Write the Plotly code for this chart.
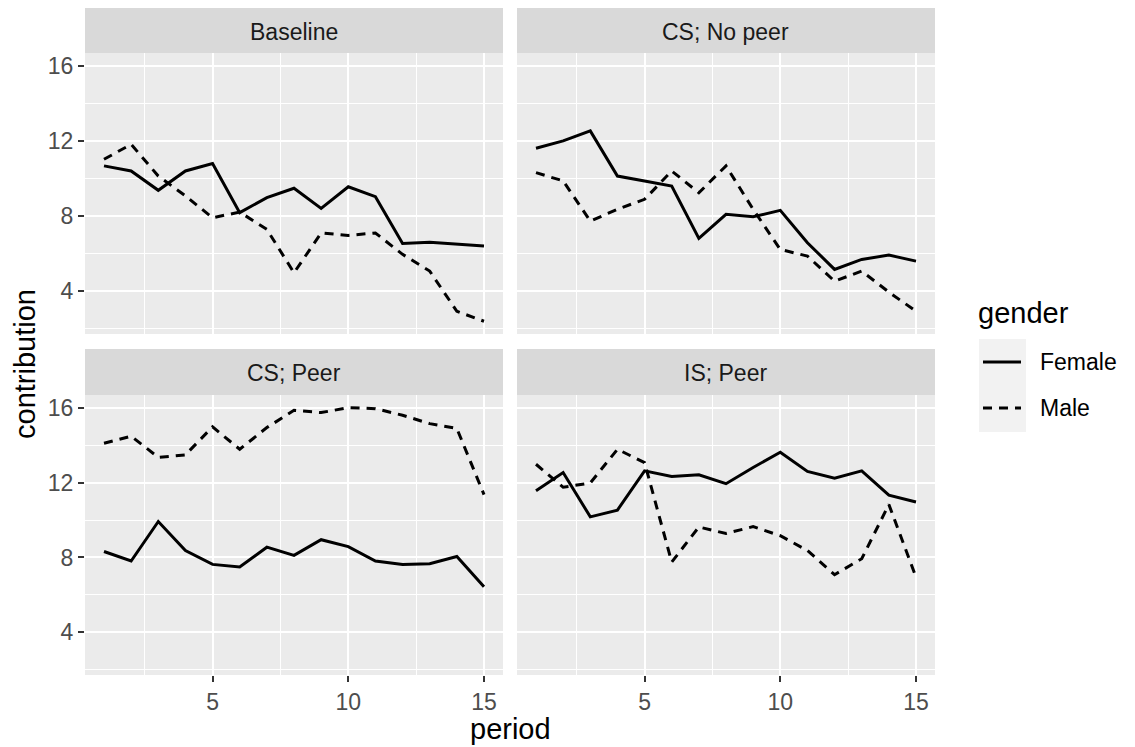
import plotly.graph_objects as go

periods = list(range(1, 16))
panels = ["Baseline", "CS; No peer", "CS; Peer", "IS; Peer"]

baseline_female = [10.67, 10.4, 9.37, 10.4, 10.8, 8.18, 8.98, 9.48, 8.41, 9.56, 9.03, 6.54, 6.6, 6.5, 6.4]
baseline_male = [11.02, 11.82, 10.13, 9.07, 7.91, 8.21, 7.29, 4.98, 7.1, 6.97, 7.1, 5.96, 5.07, 2.93, 2.4]
csnopeer_female = [11.61, 12.0, 12.53, 10.13, 9.87, 9.6, 6.81, 8.09, 7.96, 8.3, 6.58, 5.16, 5.69, 5.92, 5.6]
csnopeer_male = [10.31, 9.87, 7.73, 8.36, 8.89, 10.4, 9.24, 10.67, 8.36, 6.22, 5.87, 4.53, 5.07, 3.95, 2.93]
cspeer_female = [8.32, 7.81, 9.92, 8.37, 7.63, 7.49, 8.55, 8.11, 8.95, 8.58, 7.81, 7.63, 7.66, 8.05, 6.43]
cspeer_male = [14.1, 14.48, 13.35, 13.48, 14.98, 13.78, 14.94, 15.86, 15.74, 16.0, 15.95, 15.6, 15.15, 14.89, 11.36]
ispeer_female = [11.57, 12.54, 10.17, 10.53, 12.63, 12.33, 12.42, 11.94, 12.81, 13.62, 12.6, 12.24, 12.63, 11.33, 10.96]
ispeer_male = [12.98, 11.75, 11.98, 13.78, 13.07, 7.75, 9.63, 9.28, 9.65, 9.16, 8.37, 7.08, 7.93, 10.83, 6.95]

female_series = [baseline_female, csnopeer_female, cspeer_female, ispeer_female]
male_series = [baseline_male, csnopeer_male, cspeer_male, ispeer_male]

y_ticks = [4, 8, 12, 16]
y_minor = [2, 6, 10, 14]
x_ticks = [5, 10, 15]
x_minor = [2.5, 7.5, 12.5]

# page body has an 8px margin: the figure starts at (8, 8) in the screenshot
OFF = 8
W, H = 1135 - OFF, 747 - OFF
FONT = "Liberation Sans, Arial, Helvetica, sans-serif"

def px_x(p):
    return (p - OFF) / W

def px_y(p):
    return 1 - (p - OFF) / H

# panel pixel boxes in screenshot coordinates
col_px = [(85, 503), (517, 935)]
row_px = [(53, 334), (395, 675)]
strip_px = [(8, 53), (349, 395)]

fig = go.Figure()

DASH_M = "9px,7px"
LW = 3

for i, name in enumerate(panels):
    r, c = divmod(i, 2)
    ax_id = "" if i == 0 else str(i + 1)
    xa = "x" + ax_id
    ya = "y" + ax_id
    fig.add_trace(go.Scatter(x=periods, y=female_series[i], mode="lines", name="Female",
                             line=dict(color="black", width=LW), xaxis=xa, yaxis=ya,
                             showlegend=False))
    fig.add_trace(go.Scatter(x=periods, y=male_series[i], mode="lines", name="Male",
                             line=dict(color="black", width=LW, dash=DASH_M), xaxis=xa, yaxis=ya,
                             showlegend=False))
    L, R = col_px[c]
    T, B = row_px[r]
    xkey = "xaxis" + ax_id
    ykey = "yaxis" + ax_id
    fig.layout[xkey] = dict(
        domain=[px_x(L), px_x(R)], anchor=ya, range=[0.3, 15.7],
        tickvals=x_ticks, ticktext=[str(v) for v in x_ticks],
        showticklabels=(r == 1), ticks="outside" if r == 1 else "",
        ticklen=6, tickwidth=2, tickcolor="#333333",
        tickfont=dict(family=FONT, size=23, color="#4D4D4D"),
        showgrid=True, gridcolor="white", gridwidth=2.2,
        minor=dict(tickvals=x_minor, showgrid=True, gridcolor="white", gridwidth=1.1, ticks=""),
        zeroline=False, showline=False,
    )
    fig.layout[ykey] = dict(
        domain=[px_y(B), px_y(T)], anchor=xa, range=[1.72, 16.68],
        tickvals=y_ticks, ticktext=[str(v) for v in y_ticks],
        showticklabels=(c == 0), ticks="outside" if c == 0 else "",
        ticklen=6, tickwidth=2, tickcolor="#333333",
        tickfont=dict(family=FONT, size=23, color="#4D4D4D"),
        showgrid=True, gridcolor="white", gridwidth=2.2,
        minor=dict(tickvals=y_minor, showgrid=True, gridcolor="white", gridwidth=1.1, ticks=""),
        zeroline=False, showline=False,
    )
    fig.add_shape(type="rect", xref="paper", yref="paper",
                  x0=px_x(L), x1=px_x(R), y0=px_y(B), y1=px_y(T),
                  fillcolor="#EBEBEB", line=dict(width=0), layer="below")
    sT, sB = strip_px[r]
    fig.add_shape(type="rect", xref="paper", yref="paper",
                  x0=px_x(L), x1=px_x(R), y0=px_y(sB), y1=px_y(sT),
                  fillcolor="#D9D9D9", line=dict(width=0), layer="below")
    fig.add_annotation(x=px_x((L + R) / 2), y=px_y((sT + sB) / 2 + 1), xref="paper", yref="paper",
                       text=name, showarrow=False, xanchor="center", yanchor="middle",
                       font=dict(family=FONT, size=23, color="#1A1A1A"))

# axis titles
fig.add_annotation(x=px_x((85 + 935) / 2), y=px_y(746), xref="paper", yref="paper",
                   text="period", showarrow=False, xanchor="center", yanchor="bottom",
                   borderpad=0, font=dict(family=FONT, size=29, color="black"))
fig.add_annotation(x=px_x(25), y=px_y((53 + 675) / 2), xref="paper", yref="paper",
                   text="contribution", showarrow=False, textangle=-90,
                   xanchor="center", yanchor="middle",
                   font=dict(family=FONT, size=29, color="black"))

# legend (manual, ggplot style)
fig.add_annotation(x=px_x(976), y=px_y(313), xref="paper", yref="paper",
                   text="gender", showarrow=False, xanchor="left", yanchor="middle",
                   font=dict(family=FONT, size=29, color="black"))
fig.add_shape(type="rect", xref="paper", yref="paper",
              x0=px_x(979), x1=px_x(1026), y0=px_y(432), y1=px_y(339),
              fillcolor="#F2F2F2", line=dict(width=0), layer="below")
leg_items = [("Female", "solid", 362), ("Male", DASH_M, 408)]
for lab, dash, yy in leg_items:
    fig.add_shape(type="line", xref="paper", yref="paper",
                  x0=px_x(983), x1=px_x(1021), y0=px_y(yy), y1=px_y(yy),
                  line=dict(color="black", width=LW, dash=dash))
    fig.add_annotation(x=px_x(1038), y=px_y(yy), xref="paper", yref="paper",
                       text=lab, showarrow=False, xanchor="left", yanchor="middle",
                       font=dict(family=FONT, size=23, color="black"))

fig.update_layout(
    width=W, height=H,
    margin=dict(l=0, r=0, t=0, b=0),
    paper_bgcolor="white", plot_bgcolor="rgba(0,0,0,0)",
    showlegend=False,
)

fig.write_html("out.html")
